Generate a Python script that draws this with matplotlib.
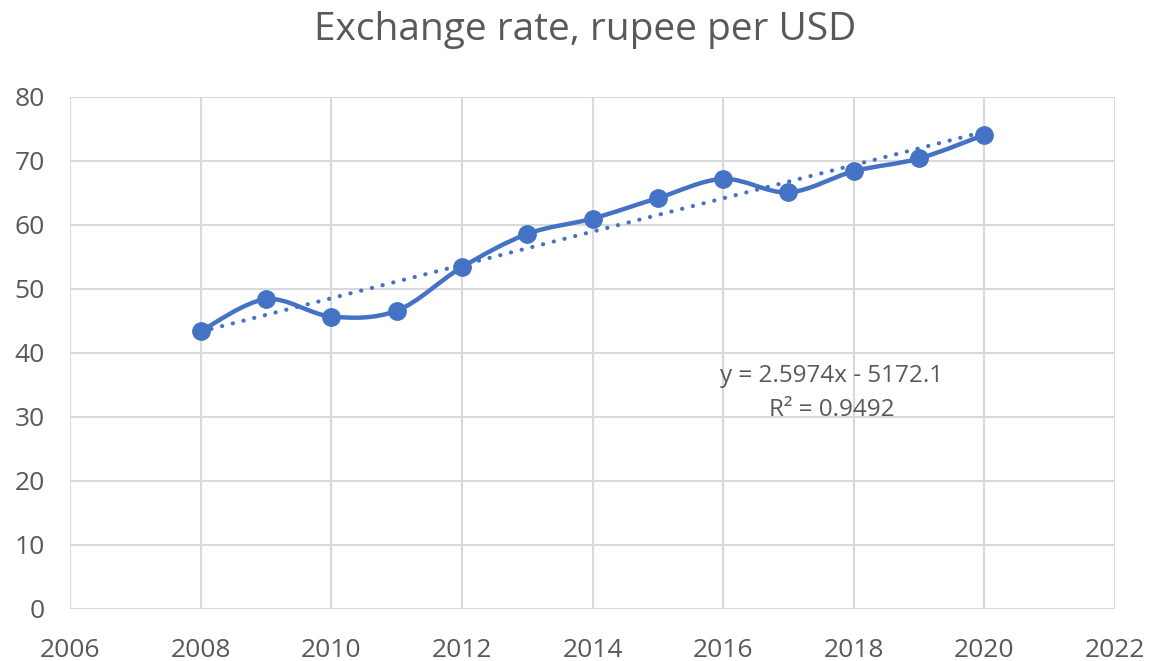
import numpy as np
import matplotlib
matplotlib.use("Agg")
import matplotlib.pyplot as plt
from matplotlib.path import Path
from matplotlib.patches import PathPatch

# ---- data ----
years = [2008, 2009, 2010, 2011, 2012, 2013, 2014, 2015, 2016, 2017, 2018, 2019, 2020]
rates = [43.4, 48.4, 45.7, 46.6, 53.4, 58.6, 61.0, 64.2, 67.2, 65.1, 68.4, 70.4, 74.1]
x_ticks = [2006, 2008, 2010, 2012, 2014, 2016, 2018, 2020, 2022]
y_ticks = [0, 10, 20, 30, 40, 50, 60, 70, 80]
title = "Exchange rate, rupee per USD"
eq_text = "y = 2.5974x - 5172.1"
r2_text = "R² = 0.9492"

BLUE = "#4472C4"
GRID = "#d9d9d9"
TXT = "#595959"
FONT = "Open Sans"

plt.rcParams['font.family'] = [FONT, 'DejaVu Sans']

fig = plt.figure(figsize=(11.63, 6.61), dpi=100)
ax = fig.add_axes([70/1163, 1-609/661, (1115-70)/1163, (609-97)/661])

ax.set_xlim(x_ticks[0], x_ticks[-1])
ax.set_ylim(y_ticks[0], y_ticks[-1])
ax.set_xticks(x_ticks)
ax.set_yticks(y_ticks)
ax.grid(True, color=GRID, linewidth=1.5)
ax.set_axisbelow(True)
for s in ax.spines.values():
    s.set_visible(False)
ax.tick_params(length=0, labelsize=19, labelcolor=TXT)
ax.tick_params(axis='x', pad=21)
ax.tick_params(axis='y', pad=18)

# smoothed line (Catmull-Rom style bezier through data points)
x = np.array(years, dtype=float)
y = np.array(rates, dtype=float)
pts = np.column_stack([x, y])
n = len(pts)
verts = [tuple(pts[0])]
codes = [Path.MOVETO]
for i in range(n - 1):
    p0 = pts[i - 1] if i > 0 else pts[i]
    p1 = pts[i]
    p2 = pts[i + 1]
    p3 = pts[i + 2] if i + 2 < n else pts[i + 1]
    c1 = p1 + (p2 - p0) / 6.0
    c2 = p2 - (p3 - p1) / 6.0
    verts += [tuple(c1), tuple(c2), tuple(p2)]
    codes += [Path.CURVE4] * 3
patch = PathPatch(Path(verts, codes), facecolor='none', edgecolor=BLUE,
                  linewidth=3.2, capstyle='round', joinstyle='round', zorder=3)
ax.add_patch(patch)
ax.plot(years, rates, linestyle='none', marker='o', markersize=12.5,
        color=BLUE, zorder=4)

# linear trendline
coef = np.polyfit(x, y, 1)
ax.plot(x, np.polyval(coef, x), linestyle=(0, (0.05, 2.6)), color=BLUE,
        linewidth=3.0, dash_capstyle='round', zorder=2)

ax.text(832/1163, 1-376/661, eq_text, transform=fig.transFigure, ha='center',
        va='center', fontsize=17.5, color=TXT)
ax.text(832/1163, 1-410/661, r2_text, transform=fig.transFigure, ha='center',
        va='center', fontsize=17.5, color=TXT)

fig.text(585/1163, 1-30/661, title, ha='center', va='center', fontsize=28,
         color=TXT)

fig.savefig("out.png", dpi=100)
